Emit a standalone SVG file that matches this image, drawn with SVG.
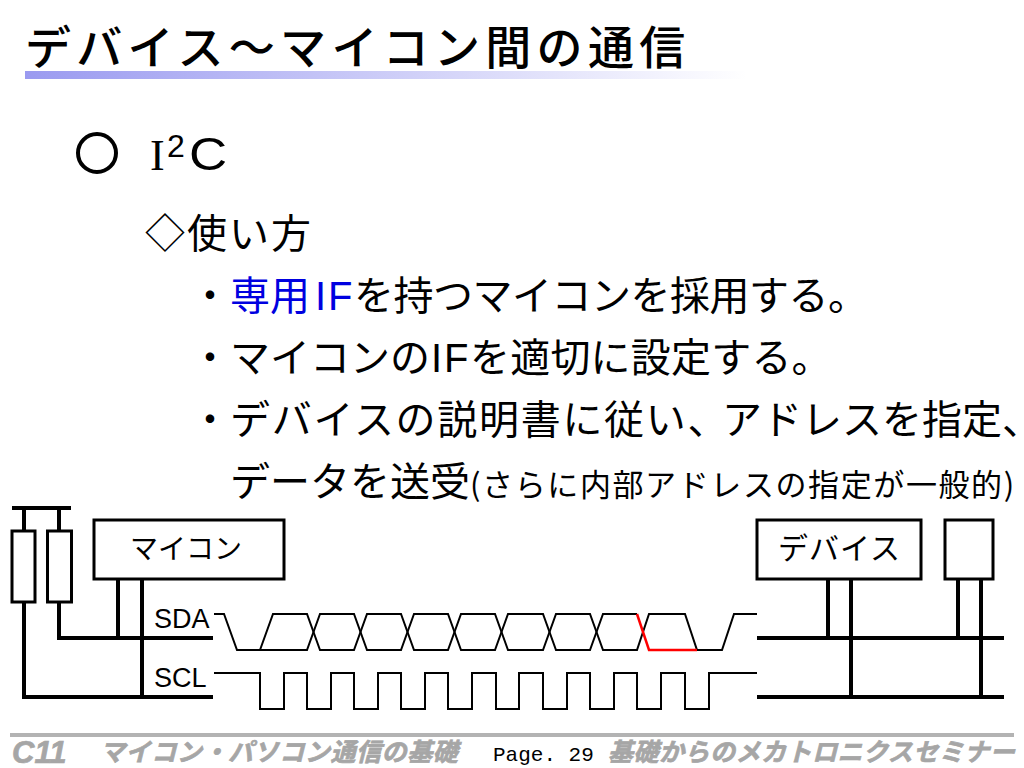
<svg xmlns="http://www.w3.org/2000/svg" width="1024" height="768" viewBox="0 0 1024 768">
<style>
text{font-family:"Noto Sans CJK JP","Noto Sans",sans-serif;fill:#000}
.b{font-size:40px}
.lat{font-family:"Liberation Sans",sans-serif}
.ser{font-family:"Liberation Serif",serif}
.mono{font-family:"Liberation Mono",monospace;font-size:21px}
.lab{font-size:28px}
.sig{font-family:"Liberation Sans",sans-serif;font-size:27px}
.foot{font-size:25px;font-weight:700;font-style:italic;fill:#a6a6a6;stroke:#a6a6a6;stroke-width:.7}
.box{fill:#fff;stroke:#000;stroke-width:3}
.bus{fill:none;stroke:#000;stroke-width:4}
.wave{fill:none;stroke:#000;stroke-width:2}
</style>
<defs><linearGradient id="g"><stop offset="0" stop-color="#9a9af0"/><stop offset="1" stop-color="#fff"/></linearGradient></defs>
<rect width="1024" height="768" fill="#fff"/>
<g id="title">
<text x="25" y="64" font-size="46" font-weight="500" letter-spacing="5.3">デバイス～マイコン間の通信</text>
<rect x="25" y="71" width="722" height="8" fill="url(#g)"/>
</g>
<g id="body">
<ellipse cx="97" cy="153" rx="19" ry="19" fill="none" stroke="#000" stroke-width="4"/>
<text class="ser" x="150" y="170" font-size="44">I</text>
<text class="lat" x="167" y="157" font-size="32">2</text>
<text class="lat" font-size="46" transform="translate(189 170) scale(1.15 1)">C</text>
<text class="b" x="145" y="248" letter-spacing="2">◇使い方</text>
<text class="b" x="190" y="310">・<tspan fill="#0000e0" style="fill:#0000e0">専用</tspan></text>
<text class="b lat" x="315" y="310" letter-spacing="2" style="fill:#0000e0">IF</text>
<text class="b" x="354" y="310" letter-spacing="-.5">を持つマイコンを採用する。</text>
<text class="b" x="190" y="372">・マイコンの</text>
<text class="b lat" x="431" y="372" letter-spacing="2">IF</text>
<text class="b" x="470" y="372" letter-spacing=".2">を適切に設定する。</text>
<text class="b" x="190" y="434">・<tspan letter-spacing="1.7">デバイスの説明書に従い、</tspan></text>
<text class="b" x="722" y="434">アドレスを指定<tspan style="font-feature-settings:'halt'">、</tspan></text>
<text class="b" x="230" y="496">データを送受</text>
<text x="470" y="496" font-size="31" letter-spacing="1.6">(さらに内部アドレスの指定が一般的)</text>
</g>
<g id="connectors">
<path class="bus" d="M12 508H71M24 508V531M59 508V531M24 602V697H213M59 602V638H213M118 579V638M142 579V697"/>
<path class="bus" d="M757 638H1004M757 697H1004M828 579V638M851 579V697M958 579V638M981 579V697"/>
</g>
<g id="waves">
<path class="wave" d="M214 614H224L237 650H307L320 614H354L367 650H401L414 614H448L461 650H495L508 614H543L556 650H590L603 614H637"/>
<path class="wave" d="M260 650L273 614H307L320 650H354L367 614H401L414 650H448L461 614H495L508 650H543L556 614H590L603 650H637L649 614H685L697 650H722L734 614H757"/>
<path d="M637 614L649 650H697" fill="none" stroke="#f00" stroke-width="2.500"/>
<path class="wave" d="M214 673H260V709H284V673H307V709H331V673H354V709H378V673H401V709H425V673H448V709H472V673H496V709H519V673H543V709H567V673H590V709H614V673H637V709H661V673H685V709H709V673H757"/>
</g>
<g id="r1"><rect class="box" x="12" y="531" width="23" height="71"/></g>
<g id="r2"><rect class="box" x="47.500" y="531" width="24" height="71"/></g>
<g id="mcu"><rect class="box" x="94" y="520" width="190" height="59"/><text class="lab" x="130" y="559">マイコン</text></g>
<g id="dev1"><rect class="box" x="757" y="520" width="164" height="59"/><text x="778" y="559" font-size="30" letter-spacing="1">デバイス</text></g>
<g id="dev2"><rect class="box" x="945" y="520" width="48" height="59"/></g>
<g id="sda"><text class="sig" x="154" y="628">SDA</text></g>
<g id="scl"><text class="sig" x="154" y="687">SCL</text></g>
<g id="footer">
<rect x="10" y="733" width="1004" height="4" fill="#b3b3b3"/>
<text class="foot" x="12" y="763" style="font-size:31px;font-family:'Liberation Sans',sans-serif">C11</text>
<text class="foot" x="100" y="761" letter-spacing=".6">マイコン・パソコン通信の基礎</text>
<text class="mono" x="493" y="761">Page. 29</text>
<text class="foot" x="608" y="761" letter-spacing=".5">基礎からのメカトロニクスセミナー</text>
</g>
</svg>
